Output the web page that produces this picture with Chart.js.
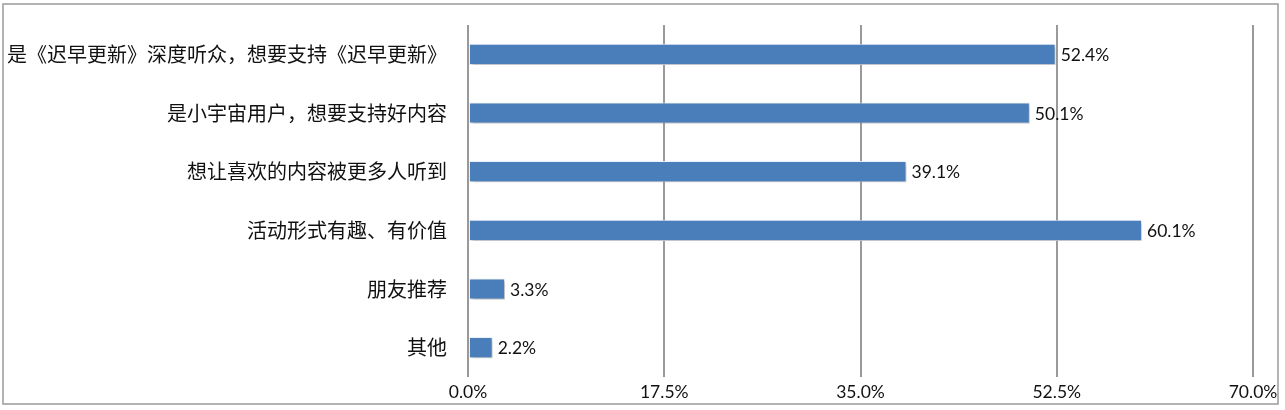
<!DOCTYPE html>
<html>
<head>
<meta charset="utf-8">
<script src="https://cdn.jsdelivr.net/npm/chart.js@4/dist/chart.umd.min.js"></script>
<style>
    html, body { margin: 0; padding: 0; background: #fff; }
    #wrap { width: 1285px; height: 410px; }
</style>
</head>
<body>
<div id="wrap"><canvas id="reasons_chart" width="1285" height="410"></canvas></div>
<script>
const categories = [
    '是《迟早更新》深度听众，想要支持《迟早更新》',
    '是小宇宙用户，想要支持好内容',
    '想让喜欢的内容被更多人听到',
    '活动形式有趣、有价值',
    '朋友推荐',
    '其他'
]
const shares = [52.4, 50.1, 39.1, 60.1, 3.3, 2.2]
const tickValues = [0, 17.5, 35, 52.5, 70]

const cjkFont = '"Noto Sans CJK SC", "Noto Sans", sans-serif'
const numFont = 'Lato, "Noto Sans", sans-serif'

// outer frame + bar shadow + labels
const decor = {
    id: 'decor',
    beforeDraw(chart) {
        const ctx = chart.ctx
        ctx.save()
        ctx.fillStyle = '#fff'
        ctx.fillRect(0, 0, chart.width, chart.height)
        ctx.strokeStyle = '#9a9a9a'
        ctx.lineWidth = 1.5
        ctx.strokeRect(3, 4, 1275, 400)
        ctx.restore()
    },
    beforeDatasetsDraw(chart) {
        const ctx = chart.ctx
        ctx.save()
        ctx.shadowColor = 'rgba(0,0,0,0.28)'
        ctx.shadowBlur = 3
        ctx.shadowOffsetX = 1.5
        ctx.shadowOffsetY = 2
    },
    afterDatasetsDraw(chart) {
        const ctx = chart.ctx
        ctx.restore()
        const meta = chart.getDatasetMeta(0)
        const yScale = chart.scales.y

        ctx.save()
        ctx.fillStyle = '#111'
        ctx.textBaseline = 'middle'

        // values next to bars
        ctx.font = '17.5px ' + numFont
        ctx.textAlign = 'left'
        meta.data.forEach((bar, i) => {
            ctx.fillText(shares[i].toFixed(1) + '%', bar.x + 5, bar.y + 1)
        })

        // category labels
        ctx.font = '20px ' + cjkFont
        ctx.textAlign = 'right'
        categories.forEach((c, i) => {
            ctx.fillText(c, chart.chartArea.left - 21, yScale.getPixelForValue(i))
        })
        ctx.restore()
    }
}

new Chart(document.querySelector('#reasons_chart'), {
    type: 'bar',
    data: {
        labels: categories,
        datasets: [{
            data: shares,
            backgroundColor: '#4a7ebb',
            borderColor: 'rgba(235,242,250,0.9)',
            borderWidth: 1,
            borderSkipped: false,
            categoryPercentage: 1,
            barPercentage: 0.36
        }]
    },
    options: {
        indexAxis: 'y',
        responsive: false,
        animation: false,
        layout: { padding: { top: 25, right: 32, left: 0, bottom: 0 } },
        plugins: {
            legend: { display: false },
            tooltip: { enabled: false }
        },
        scales: {
            x: {
                min: 0,
                max: 70,
                afterBuildTicks(scale) {
                    scale.ticks = tickValues.map(v => ({ value: v }))
                },
                afterFit(scale) { scale.height = 33 },
                grid: { color: '#999', lineWidth: 2, drawTicks: false },
                border: { display: false },
                ticks: {
                    padding: 5,
                    color: '#111',
                    font: { family: numFont, size: 17.5 },
                    callback: v => Number(v).toFixed(1) + '%'
                }
            },
            y: {
                afterFit(scale) { scale.width = 468 },
                grid: { display: false },
                border: { display: false },
                ticks: { display: false }
            }
        }
    },
    plugins: [decor]
})
</script>
</body>
</html>
